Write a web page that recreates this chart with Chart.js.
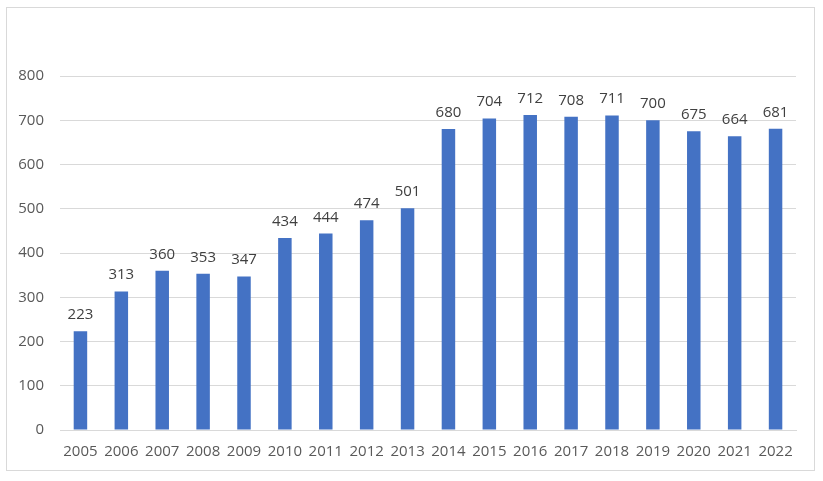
<!DOCTYPE html>
<html>
<head>
<meta charset="utf-8">
<script src="https://cdn.jsdelivr.net/npm/chart.js@4"></script>
<style>
  html, body { margin: 0; padding: 0; background: #fff; }
  #wrap { position: relative; width: 823px; height: 481px; }
  #frame { position: absolute; left: 6px; top: 7px; width: 809px; height: 464px; border: 1px solid #d9d9d9; box-sizing: border-box; }
  canvas { position: absolute; left: 0; top: 0; }
</style>
</head>
<body>
<div id="wrap">
  <div id="frame"></div>
  <canvas id="chart" width="823" height="481"></canvas>
</div>
<script>
const years = ["2005", "2006", "2007", "2008", "2009", "2010", "2011", "2012", "2013",
    "2014", "2015", "2016", "2017", "2018", "2019", "2020", "2021", "2022"];
const values = [223, 313, 360, 353, 347, 434, 444, 474, 501,
    680, 704, 712, 708, 711, 700, 675, 664, 681];

const FONT = "'Open Sans', 'Liberation Sans', sans-serif";

// draws the value above each bar
const valueLabels = {
    id: "valueLabels",
    afterDatasetsDraw(chart) {
        const ctx = chart.ctx;
        const meta = chart.getDatasetMeta(0);
        ctx.save();
        ctx.font = "15px " + FONT;
        ctx.fillStyle = "#404040";
        ctx.textAlign = "center";
        ctx.textBaseline = "alphabetic";
        meta.data.forEach((bar, i) => {
            ctx.fillText(values[i], bar.x, bar.y - 12);
        });
        ctx.restore();
    }
};

new Chart(document.getElementById("chart").getContext("2d"), {
    type: "bar",
    data: {
        labels: years,
        datasets: [{
            data: values,
            backgroundColor: "#4472C4",
            barPercentage: 0.66,
            categoryPercentage: 0.5
        }]
    },
    options: {
        responsive: false,
        animation: false,
        layout: { padding: { left: 0, right: 27, top: 76, bottom: 0 } },
        plugins: { legend: { display: false }, tooltip: { enabled: false } },
        scales: {
            x: {
                grid: { display: false, drawTicks: false },
                border: { display: true, color: "#d9d9d9" },
                ticks: { color: "#595959", font: { family: FONT, size: 15 }, padding: 13, maxRotation: 0 },
                afterFit: s => { s.height = 51; }
            },
            y: {
                min: 0,
                max: 800,
                ticks: { stepSize: 100, color: "#595959", font: { family: FONT, size: 15 }, padding: 16 },
                grid: { color: "#d9d9d9", drawTicks: false },
                border: { display: false },
                afterFit: s => { s.width = 60; }
            }
        }
    },
    plugins: [valueLabels]
});
</script>
</body>
</html>
